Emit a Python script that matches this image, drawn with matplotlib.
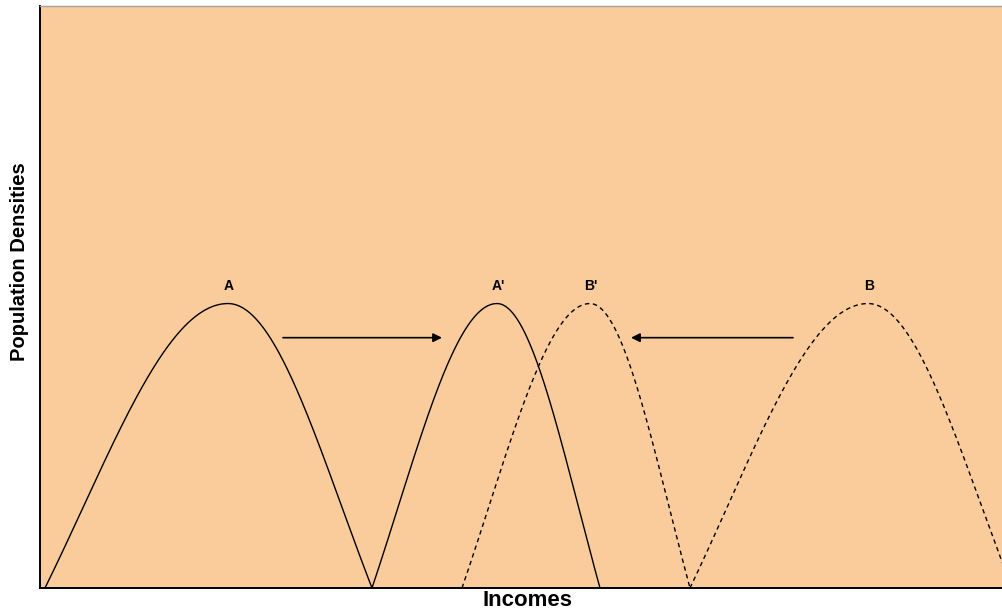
"""Income distributions shifting toward each other (schematic)."""

import numpy as np
import matplotlib.pyplot as plt

plt.rcParams["font.family"] = ["Liberation Sans", "DejaVu Sans"]

# --------------------------------------------------------------------------
# data (income in arbitrary units, density relative to the peak)
# --------------------------------------------------------------------------
labels = ["A", "A'", "B'", "B"]
left_income = [5, 332, 422, 650]      # where each density reaches zero (left)
peak_income = [188, 457, 550, 828]    # income at the mode
right_income = [332, 560, 650, 972]   # where each density reaches zero (right)
peak_density = [1.0, 1.0, 1.0, 1.0]
styles = ["-", "-", "--", "--"]

# arrows: (from income, to income, density level)
arrow_from = [243, 753]
arrow_to = [402, 591]
arrow_level = [0.88, 0.88]

X_MAX = 963
Y_MAX = 2.046
SHAPE = 0.8  # bell curvature used for each side of the hump


def hump(x0, xc, x1, h, n=300):
    """bell-shaped hump, zero at x0 and x1, maximum h at xc."""
    base = np.exp(-SHAPE)
    xl = np.linspace(x0, xc, n)
    xr = np.linspace(xc, x1, n)
    tl = (xc - xl) / (xc - x0)
    tr = (xr - xc) / (x1 - xc)
    yl = h * (np.exp(-SHAPE * tl**2) - base) / (1 - base)
    yr = h * (np.exp(-SHAPE * tr**2) - base) / (1 - base)
    return np.concatenate([xl, xr]), np.concatenate([yl, yr])


fig = plt.figure(figsize=(10.03, 6.15), dpi=100)
ax = fig.add_axes([40 / 1003, 27 / 615, 963 / 1003, 582 / 615])
ax.set_facecolor("#FACC9C")

for lab, x0, xc, x1, h, ls in zip(labels, left_income, peak_income,
                                  right_income, peak_density, styles):
    xs, ys = hump(x0, xc, x1, h)
    if ls == "--":
        ax.plot(xs, ys, color="black", lw=1.0, linestyle=(0, (3.2, 2.6)))
    else:
        ax.plot(xs, ys, color="black", lw=1.0)
    ax.text(xc + 1, h + 0.063, lab, ha="center", va="center",
            fontsize=10, fontweight="bold")

for xa, xb, yv in zip(arrow_from, arrow_to, arrow_level):
    ax.annotate("", xy=(xb, yv), xytext=(xa, yv),
                arrowprops=dict(arrowstyle="-|>", color="black", lw=1.2,
                                mutation_scale=13, shrinkA=0, shrinkB=0))

ax.set_xlim(0, X_MAX)
ax.set_ylim(0, Y_MAX)
ax.set_xticks([])
ax.set_yticks([])
ax.spines["left"].set_linewidth(1.4)
ax.spines["bottom"].set_linewidth(1.4)
ax.spines["top"].set_color("#A0A0A0")
ax.spines["top"].set_linewidth(1.0)
ax.spines["right"].set_visible(False)

ax.set_xlabel("Incomes", fontsize=16, fontweight="bold")
ax.set_ylabel("Population Densities", fontsize=14.5, fontweight="bold")
ax.xaxis.set_label_coords((528 - 40) / 963, -0.0026)
ax.yaxis.set_label_coords(-0.021, (588 - 262) / 582)
ax.xaxis.label.set_va("top")
ax.yaxis.label.set_va("center")

fig.savefig("out.png", dpi=100)
